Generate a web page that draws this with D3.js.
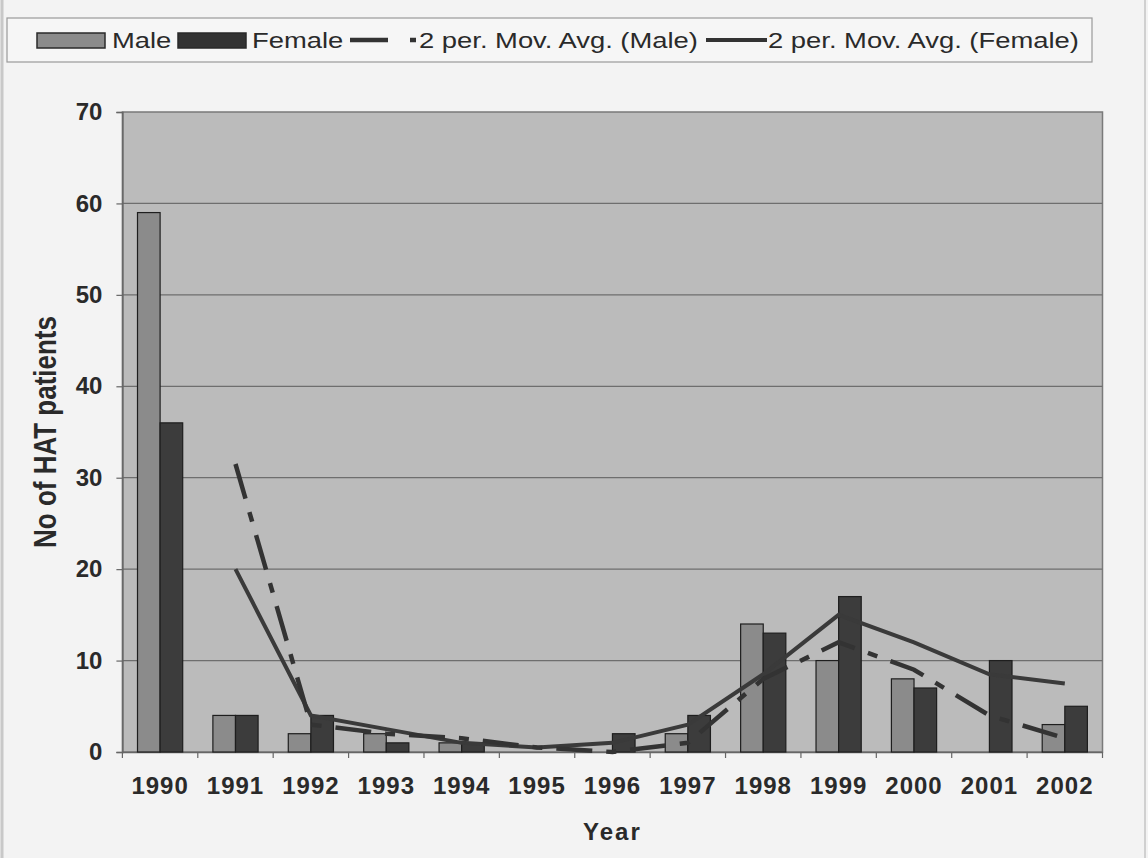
<!DOCTYPE html>
<html>
<head>
<meta charset="utf-8">
<script src="https://cdn.jsdelivr.net/npm/d3@7"></script>
<style>
  html, body { margin: 0; padding: 0; background: #f3f3f3; }
  svg { display: block; }
  text { font-family: "Liberation Sans", Arial, sans-serif; fill: #2a2a2a; }
</style>
</head>
<body>
<svg id="chart" width="1148" height="858"></svg>
<script>
// HAT patients by year and sex
const years = ["1990","1991","1992","1993","1994","1995","1996","1997","1998","1999","2000","2001","2002"];
const male   = [59, 4, 2, 2, 1, 0, 0, 2, 14, 10, 8, 0, 3];
const female = [36, 4, 4, 1, 1, 0, 2, 4, 13, 17, 7, 10, 5];
const yTicks = [0, 10, 20, 30, 40, 50, 60, 70];

// two-period moving average (first point undefined)
function movAvg(arr) {
  return arr.map((v, i) => i === 0 ? null : (arr[i - 1] + v) / 2);
}
const maMale = movAvg(male);
const maFemale = movAvg(female);

const svg = d3.select("#chart");
const plot = { left: 122.4, right: 1102.5, top: 112, bottom: 752 };

// page background and edges
svg.append("rect").attr("x", 0).attr("y", 0).attr("width", 1148).attr("height", 858).attr("fill", "#f3f3f3");
svg.append("line").attr("x1", 2).attr("x2", 2).attr("y1", 0).attr("y2", 858).attr("stroke", "#c8c8c8").attr("stroke-width", 3);
svg.append("line").attr("x1", 1145).attr("x2", 1145).attr("y1", 0).attr("y2", 858).attr("stroke", "#d0d0d0").attr("stroke-width", 2);

const x = d3.scaleBand().domain(years).range([plot.left, plot.right]).paddingInner(0).paddingOuter(0);
const y = d3.scaleLinear().domain([0, 70]).range([plot.bottom, plot.top]);
const barW = 22.6;

// plot area
svg.append("rect")
  .attr("x", plot.left).attr("y", plot.top)
  .attr("width", plot.right - plot.left).attr("height", plot.bottom - plot.top)
  .attr("fill", "#bbbbbb").attr("stroke", "#7a7a7a").attr("stroke-width", 1.5);

// gridlines
svg.append("g").selectAll("line").data(yTicks.filter(t => t > 0 && t < 70)).join("line")
  .attr("x1", plot.left).attr("x2", plot.right)
  .attr("y1", d => y(d)).attr("y2", d => y(d))
  .attr("stroke", "#6e6e6e").attr("stroke-width", 1.2);

// y axis
const yAxis = svg.append("g").attr("transform", `translate(${plot.left},0)`)
  .call(d3.axisLeft(y).tickValues(yTicks).tickSize(6).tickPadding(14));
yAxis.select(".domain").attr("stroke", "#666").attr("stroke-width", 1.5);
yAxis.selectAll(".tick line").attr("stroke", "#666").attr("stroke-width", 1.2);
yAxis.selectAll(".tick text")
  .attr("font-size", 24).attr("font-weight", "bold").attr("fill", "#2a2a2a")
  .style("font-family", '"Liberation Sans", Arial, sans-serif');

// x axis
const xAxis = svg.append("g").attr("transform", `translate(0,${plot.bottom})`)
  .call(d3.axisBottom(x).tickSize(0).tickPadding(25));
xAxis.select(".domain").attr("stroke", "#666").attr("stroke-width", 1.5);
xAxis.selectAll(".tick text")
  .attr("font-size", 24).attr("font-weight", "bold").attr("fill", "#2a2a2a")
  .attr("letter-spacing", 1)
  .style("font-family", '"Liberation Sans", Arial, sans-serif');
// category boundary ticks
svg.append("g").selectAll("line").data(years.concat(["end"])).join("line")
  .attr("x1", (d, i) => plot.left + i * x.bandwidth())
  .attr("x2", (d, i) => plot.left + i * x.bandwidth())
  .attr("y1", plot.bottom).attr("y2", plot.bottom + 6)
  .attr("stroke", "#666").attr("stroke-width", 1.2);

// bars
const bars = svg.append("g");
bars.selectAll("rect.male").data(years).join("rect").attr("class", "male")
  .attr("x", d => x(d) + x.bandwidth() / 2 - barW)
  .attr("y", (d, i) => y(male[i]))
  .attr("width", barW)
  .attr("height", (d, i) => y(0) - y(male[i]))
  .attr("fill", "#8b8b8b").attr("stroke", "#1e1e1e").attr("stroke-width", 1.2);
bars.selectAll("rect.female").data(years).join("rect").attr("class", "female")
  .attr("x", d => x(d) + x.bandwidth() / 2)
  .attr("y", (d, i) => y(female[i]))
  .attr("width", barW)
  .attr("height", (d, i) => y(0) - y(female[i]))
  .attr("fill", "#3c3c3c").attr("stroke", "#1e1e1e").attr("stroke-width", 1.2);

// moving-average trendlines
const line = d3.line()
  .defined(d => d.v !== null)
  .x(d => x(d.year) + x.bandwidth() / 2)
  .y(d => y(d.v));
svg.append("path")
  .datum(years.map((yr, i) => ({ year: yr, v: maFemale[i] })))
  .attr("d", line).attr("fill", "none")
  .attr("stroke", "#3a3a3a").attr("stroke-width", 4);
svg.append("path")
  .datum(years.map((yr, i) => ({ year: yr, v: maMale[i] })))
  .attr("d", line).attr("fill", "none")
  .attr("stroke", "#333").attr("stroke-width", 4.5)
  .attr("stroke-dasharray", "36,14,10,14");

// axis titles
svg.append("text")
  .attr("transform", `translate(56,${(plot.top + plot.bottom) / 2}) rotate(-90) scale(1,1.2)`)
  .attr("text-anchor", "middle")
  .attr("font-size", 26).attr("font-weight", "bold")
  .text("No of HAT patients");
svg.append("text")
  .attr("x", (plot.left + plot.right) / 2).attr("y", 840)
  .attr("text-anchor", "middle")
  .attr("font-size", 24).attr("font-weight", "bold").attr("letter-spacing", 2)
  .text("Year");

// legend
const lg = svg.append("g");
lg.append("rect").attr("x", 7).attr("y", 18).attr("width", 1085).attr("height", 44)
  .attr("fill", "#f6f6f6").attr("stroke", "#9a9a9a").attr("stroke-width", 1.2);
const ly = 40;
const legendText = (x0, label) => lg.append("text")
  .attr("transform", `translate(${x0},${ly + 8}) scale(1.245,1)`)
  .attr("font-size", 22).text(label);
lg.append("rect").attr("x", 37).attr("y", 33).attr("width", 68).attr("height", 15)
  .attr("fill", "#8b8b8b").attr("stroke", "#2a2a2a").attr("stroke-width", 1.5);
legendText(112, "Male");
lg.append("rect").attr("x", 178).attr("y", 33).attr("width", 68).attr("height", 15)
  .attr("fill", "#333").attr("stroke", "#2a2a2a").attr("stroke-width", 1.5);
legendText(252, "Female");
lg.append("line").attr("x1", 350).attr("x2", 416).attr("y1", ly).attr("y2", ly)
  .attr("stroke", "#333").attr("stroke-width", 4.5).attr("stroke-dasharray", "38,22,6,20");
legendText(419, "2 per. Mov. Avg. (Male)");
lg.append("line").attr("x1", 706).attr("x2", 767).attr("y1", ly).attr("y2", ly)
  .attr("stroke", "#333").attr("stroke-width", 4);
legendText(768, "2 per. Mov. Avg. (Female)");
</script>
</body>
</html>
